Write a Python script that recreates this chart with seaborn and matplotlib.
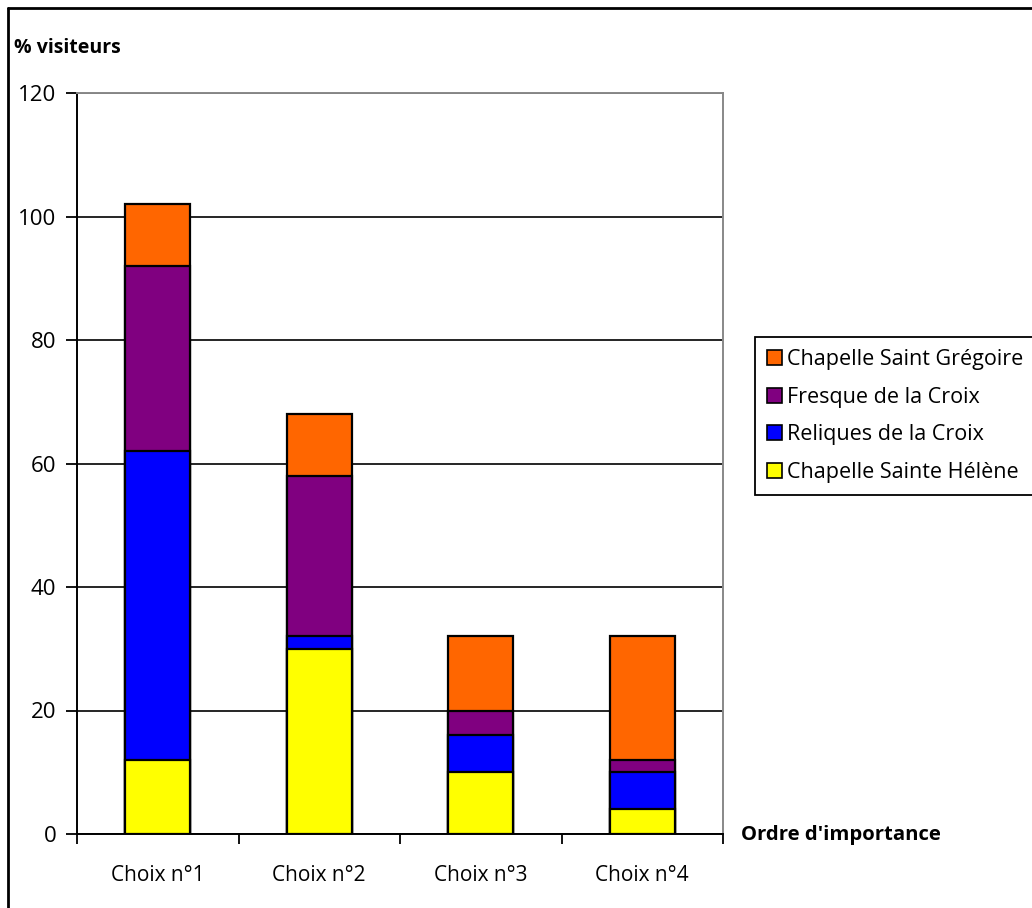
import matplotlib
matplotlib.use("Agg")
import matplotlib.pyplot as plt
from matplotlib.patches import Patch
from matplotlib.lines import Line2D
import seaborn as sns
import pandas as pd
import numpy as np

categories = ["Choix n°1", "Choix n°2", "Choix n°3", "Choix n°4"]
sainte_helene = [12, 30, 10, 4]
reliques = [50, 2, 6, 6]
fresque = [30, 26, 4, 2]
saint_gregoire = [10, 10, 12, 20]

series_names = ["Chapelle Sainte Hélène", "Reliques de la Croix",
                "Fresque de la Croix", "Chapelle Saint Grégoire"]
series_values = [sainte_helene, reliques, fresque, saint_gregoire]
series_colors = ["#FFFF00", "#0000FF", "#800080", "#FF6600"]

sns.set_theme(style="white")
plt.rcParams["font.family"] = ["Open Sans", "DejaVu Sans"]
plt.rcParams["text.color"] = "black"
plt.rcParams["xtick.color"] = "black"
plt.rcParams["ytick.color"] = "black"
plt.rcParams["xtick.labelcolor"] = "black"
plt.rcParams["ytick.labelcolor"] = "black"

fig = plt.figure(figsize=(10.32, 9.08), dpi=100)
ax = fig.add_axes([77 / 1032, 1 - 834 / 908, (723 - 77) / 1032, (834 - 93) / 908])

# cumulative stacks, drawn tallest first so each lower layer sits on top
cum = np.cumsum(np.array(series_values), axis=0)
for i in range(len(series_names) - 1, -1, -1):
    df = pd.DataFrame({"cat": categories, "val": cum[i]})
    sns.barplot(data=df, x="cat", y="val", color=series_colors[i],
                saturation=1, width=0.4, edgecolor="black", linewidth=1.6,
                ax=ax, zorder=3)

ax.set_ylim(0, 120)
ax.set_xlim(-0.5, 3.5)
ax.set_yticks(range(0, 121, 20))
ax.yaxis.grid(True, color="black", linewidth=1.2, zorder=0)
ax.set_axisbelow(True)
ax.set_xlabel("")
ax.set_ylabel("")

# category boundary ticks below the axis, labels centered on bars
ax.set_xticks(np.arange(-0.5, 4.0, 1.0), minor=False)
ax.set_xticklabels([])
ax.set_xticks(range(4), minor=True)
ax.set_xticklabels(categories, minor=True)
ax.tick_params(axis="x", which="major", direction="out", length=7, width=1.3,
               color="black", bottom=True)
ax.tick_params(axis="x", which="minor", length=0, pad=22, labelsize=15)
ax.tick_params(axis="y", direction="out", length=8, width=1.3, color="black",
               left=True, labelsize=16, pad=7)

for side in ["left", "bottom"]:
    ax.spines[side].set_color("black")
    ax.spines[side].set_linewidth(1.4)
for side in ["top", "right"]:
    ax.spines[side].set_color("#888888")
    ax.spines[side].set_linewidth(1.4)

fig.text(14 / 1032, 1 - 48 / 908, "% visiteurs", fontsize=14, fontweight="bold",
         ha="left", va="center")
fig.text(741 / 1032, 1 - 835 / 908, "Ordre d'importance", fontsize=14.6,
         fontweight="bold", ha="left", va="center")

handles = [Patch(facecolor=series_colors[i], edgecolor="black", linewidth=1.2)
           for i in range(len(series_names) - 1, -1, -1)]
labels = [series_names[i] for i in range(len(series_names) - 1, -1, -1)]
leg = fig.legend(handles, labels, loc="upper left",
                 bbox_to_anchor=(755 / 1032, 1 - 337 / 908),
                 fontsize=15.5, frameon=True, fancybox=False, framealpha=1,
                 edgecolor="black", handlelength=0.7, handleheight=0.7,
                 handletextpad=0.25, labelspacing=0.78, borderpad=0.55,
                 borderaxespad=0)
leg.get_frame().set_linewidth(1.3)

# outer chart frame
fig.add_artist(Line2D([8 / 1032, 8 / 1032], [0, 1 - 8 / 908],
                      color="black", linewidth=2, transform=fig.transFigure))
fig.add_artist(Line2D([8 / 1032, 1], [1 - 8 / 908, 1 - 8 / 908],
                      color="black", linewidth=2, transform=fig.transFigure))

fig.savefig("out.png", dpi=100)
